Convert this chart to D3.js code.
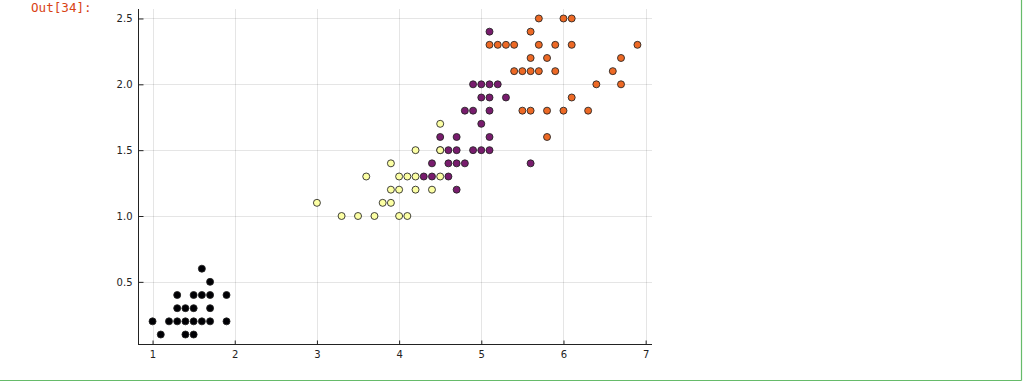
<!DOCTYPE html>
<html>
<head>
<meta charset="utf-8">
<script src="https://cdn.jsdelivr.net/npm/d3@7"></script>
<style>
  html, body { margin: 0; padding: 0; background: #fff; }
  svg { display: block; }
</style>
</head>
<body>
<svg id="chart" width="1024" height="382"></svg>
<script>
// ---- data (petal length vs petal width, coloured by cluster) ----
const cluster1X = [1.0,1.1,1.2,1.3,1.3,1.3,1.4,1.4,1.4,1.5,1.5,1.5,1.5,1.6,1.6,1.6,1.7,1.7,1.7,1.7,1.9,1.9];
const cluster1Y = [0.2,0.1,0.2,0.4,0.3,0.2,0.3,0.2,0.1,0.4,0.3,0.2,0.1,0.6,0.4,0.2,0.5,0.4,0.3,0.2,0.4,0.2];

const cluster2X = [4.7, 4.3,4.4,4.6, 4.4,4.6,4.7,4.8,5.6, 4.5,4.6,4.7,4.9,5.0,5.1, 4.5,4.7,5.1, 5.0, 4.8,4.9,5.1, 5.0,5.1,5.3, 4.9,5.0,5.1,5.2, 5.1];
const cluster2Y = [1.2, 1.3,1.3,1.3, 1.4,1.4,1.4,1.4,1.4, 1.5,1.5,1.5,1.5,1.5,1.5, 1.6,1.6,1.6, 1.7, 1.8,1.8,1.8, 1.9,1.9,1.9, 2.0,2.0,2.0,2.0, 2.4];

const cluster3X = [5.8, 5.5,5.6,5.8,6.0,6.3, 6.1, 6.4,6.7, 5.4,5.5,5.6,5.7,5.9,6.6, 5.6,5.8,6.7, 5.1,5.2,5.3,5.4,5.7,5.9,6.1,6.9, 5.6, 5.7,6.0,6.1];
const cluster3Y = [1.6, 1.8,1.8,1.8,1.8,1.8, 1.9, 2.0,2.0, 2.1,2.1,2.1,2.1,2.1,2.1, 2.2,2.2,2.2, 2.3,2.3,2.3,2.3,2.3,2.3,2.3,2.3, 2.4, 2.5,2.5,2.5];

const cluster4X = [3.0,3.3,3.5,3.6,3.7,3.8,3.9,3.9,3.9,4.0,4.0,4.0,4.1,4.1,4.2,4.2,4.2,4.4,4.5,4.5,4.5];
const cluster4Y = [1.1,1.0,1.0,1.3,1.0,1.1,1.1,1.2,1.4,1.0,1.2,1.3,1.0,1.3,1.2,1.3,1.5,1.2,1.3,1.5,1.7];

const xTicks = [1,2,3,4,5,6,7];
const yTicks = [0.5,1.0,1.5,2.0,2.5];
const yTickLabels = ["0.5","1.0","1.5","2.0","2.5"];
const outLabel = "Out[34]:";

// ---- drawing ----
const svg = d3.select("#chart");

// notebook output frame
svg.append("line").attr("x1",0).attr("x2",1021.5).attr("y1",380.5).attr("y2",380.5)
  .attr("stroke","#66bb6a").attr("stroke-width",1.2);
svg.append("line").attr("x1",1021.5).attr("x2",1021.5).attr("y1",0).attr("y2",380.5)
  .attr("stroke","#66bb6a").attr("stroke-width",1.2);

svg.append("text").attr("x",31).attr("y",12)
  .attr("font-family","DejaVu Sans Mono, monospace").attr("font-size",12.6)
  .attr("fill","#d84315").text(outLabel);

const allX = cluster1X.concat(cluster2X, cluster3X, cluster4X);
const allY = cluster1Y.concat(cluster2Y, cluster3Y, cluster4Y);
const xmin = d3.min(allX), xmax = d3.max(allX);
const ymin = d3.min(allY), ymax = d3.max(allY);
const xpad = (xmax - xmin) * 0.03, ypad = (ymax - ymin) * 0.03;

const plotL = 138, plotR = 652, plotT = 9, plotB = 344;
const x = d3.scaleLinear().domain([xmin - xpad, xmax + xpad]).range([plotL, plotR]);
const y = d3.scaleLinear().domain([ymin - ypad, ymax + ypad]).range([plotB, plotT]);

// grid
const grid = svg.append("g");
grid.selectAll("line.vg").data(xTicks).join("line")
  .attr("x1", d => Math.round(x(d)) + 0.5).attr("x2", d => Math.round(x(d)) + 0.5)
  .attr("y1", plotT).attr("y2", plotB)
  .attr("stroke", "#000").attr("stroke-opacity", 0.1).attr("stroke-width", 1);
grid.selectAll("line.hg").data(yTicks).join("line")
  .attr("y1", d => Math.round(y(d)) + 0.5).attr("y2", d => Math.round(y(d)) + 0.5)
  .attr("x1", plotL).attr("x2", plotR)
  .attr("stroke", "#000").attr("stroke-opacity", 0.1).attr("stroke-width", 1);

// axes
const xAxis = d3.axisBottom(x).tickValues(xTicks).tickSizeInner(-4).tickSizeOuter(0).tickPadding(6)
  .tickFormat(d3.format("d"));
const yAxis = d3.axisLeft(y).tickValues(yTicks).tickSizeInner(-5).tickSizeOuter(0).tickPadding(6)
  .tickFormat((d, i) => yTickLabels[i]);

const gx = svg.append("g").attr("transform", `translate(0,${plotB + 0.5})`).call(xAxis);
const gy = svg.append("g").attr("transform", `translate(${plotL + 0.5},0)`).call(yAxis);
[gx, gy].forEach(g => {
  g.select(".domain").attr("stroke", "#222").attr("stroke-width", 1);
  g.selectAll(".tick line").attr("stroke", "#222");
  g.selectAll(".tick text").attr("font-family", "DejaVu Sans, sans-serif")
    .attr("font-size", 10).attr("fill", "#222");
});
gx.select(".domain").attr("d", `M${plotL},0H${plotR}`);
gy.select(".domain").attr("d", `M0,${plotT}V${plotB}`);

// points
const series = [
  {xs: cluster1X, ys: cluster1Y, color: d3.interpolateInferno(0)},
  {xs: cluster2X, ys: cluster2Y, color: d3.interpolateInferno(1/3)},
  {xs: cluster3X, ys: cluster3Y, color: d3.interpolateInferno(2/3)},
  {xs: cluster4X, ys: cluster4Y, color: d3.interpolateInferno(1)}
];
series.forEach(s => {
  svg.append("g").selectAll("circle").data(s.xs.map((v, i) => [v, s.ys[i]])).join("circle")
    .attr("cx", d => x(d[0])).attr("cy", d => y(d[1])).attr("r", 3.5)
    .attr("fill", s.color).attr("stroke", "#222").attr("stroke-opacity", 0.85).attr("stroke-width", 1);
});
</script>
</body>
</html>
